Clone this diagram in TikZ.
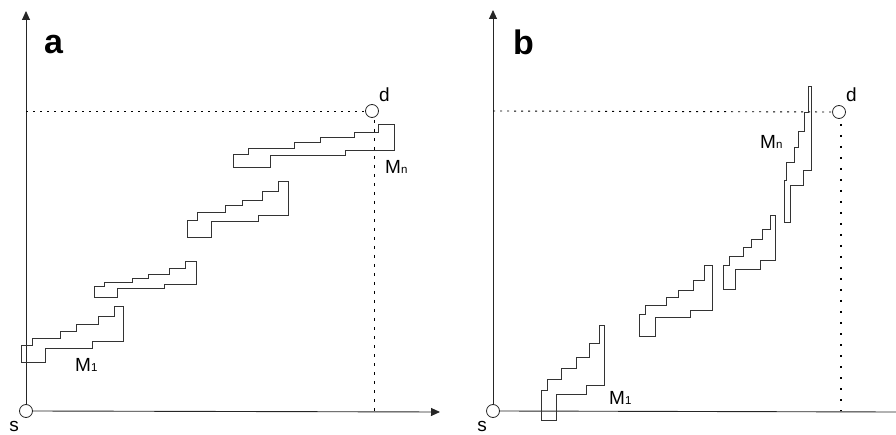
\documentclass[tikz,border=0pt]{standalone}
\usepackage{fontspec}
\setmainfont{Liberation Sans}
\usetikzlibrary{arrows.meta}
\tikzset{
  axis/.style={line width=0.9pt, draw=black!85, -{Triangle[length=9pt,width=8pt]}},
  plainaxis/.style={line width=0.9pt, draw=black!85},
  endpt/.style={circle, draw=black!85, fill=white, line width=0.8pt, minimum size=13pt, inner sep=0pt},
  stair/.style={line width=0.9pt, draw=black!80, line join=miter},
  guideA/.style={line width=0.9pt, dash pattern=on 2pt off 5pt},
  guideV/.style={line width=0.9pt, dash pattern=on 3pt off 6pt},
  guideB/.style={line width=2pt, dash pattern=on 2pt off 9pt},
  lbl/.style={font=\fontsize{19}{19}\selectfont, inner sep=0pt},
  panel/.style={font=\fontsize{34}{34}\selectfont\bfseries, inner sep=0pt},
}
\newcommand{\subsm}[1]{{\fontsize{11.5}{11.5}\selectfont #1}}
\begin{document}
\begin{tikzpicture}[x=1pt,y=-1pt]
\useasboundingbox (0,0) rectangle (896,435);

% ---------------- panel a ----------------
\node[endpt] (sa) at (26,411) {};
\coordinate (topA) at (26,11);
\coordinate (rightA) at (440,412);
\draw[axis] (sa.north) -- (topA);
\draw[axis] (sa.east) -- (rightA);
\node[lbl, anchor=north] (slblA) at (14,421) {s};
\node[panel, anchor=west] (pa) at (44,45) {a};

\node[endpt] (da) at (372,111) {};
\node[lbl, anchor=south west] (dlblA) at (379,102) {d};
\coordinate (leftA) at (26,111);
\coordinate (vtopA) at (374,120);
\coordinate (vbotA) at (374,411);
\draw[guideA] (leftA) -- (da.west);
\draw[guideV] (vtopA) -- (vbotA);

% staircases of panel a
\draw[stair] (21.7,362.7) |- (32.3,345.7) |- (60.7,338.3) |- (76.7,331.7) |- (98.3,324.3)
  |- (114.3,316.7) |- (123.3,306.7) |- (92.3,341) |- (45,348.3) |- cycle;
\draw[stair] (94,297.7) |- (104,286.7) |- (132.3,282.3) |- (148.3,278.3) |- (169.3,274)
  |- (185.3,268.3) |- (196,261.7) |- (164,284.3) |- (117.3,288.3) |- cycle;
\draw[stair] (187.3,237.7) |- (197.3,220) |- (225.7,212.3) |- (242.3,205.7) |- (262.7,200)
  |- (278.7,191.7) |- (288.3,181) |- (258.3,215) |- (211,221.7) |- cycle;
\draw[stair] (233.3,167.3) |- (248.3,154) |- (294,148.3) |- (320,142.7) |- (354,137.7)
  |- (378.3,132) |- (394.3,124.3) |- (345.7,150.7) |- (270,155) |- cycle;

\node[lbl, anchor=base west] (m1a) at (75,371) {M\subsm{1}};
\node[lbl, anchor=base west] (mna) at (385,174) {M\subsm{n}};

% ---------------- panel b ----------------
\node[endpt] (sb) at (493,411) {};
\coordinate (topB) at (493,10);
\coordinate (rightB) at (896,412);
\draw[axis] (sb.north) -- (topB);
\draw[plainaxis] (sb.east) -- (rightB);
\node[lbl, anchor=north] (slblB) at (482,421) {s};
\node[panel, anchor=west] (pb) at (513,42) {b};

\node[endpt] (db) at (839,112) {};
\node[lbl, anchor=south west] (dlblB) at (846,102) {d};
\coordinate (leftB) at (493,111);
\coordinate (vtopB) at (841,124);
\coordinate (vbotB) at (841,411);
\draw[guideA] (leftB) -- (db.west);
\draw[guideB] (vtopB) -- (vbotB);

% staircases of panel b
\draw[stair] (541.7,420.7) |- (547.7,390) |- (561.7,379) |- (576,368.3) |- (589.3,357.3)
  |- (599,343.3) |- (604.3,325) |- (586,385) |- (556.7,394.3) |- cycle;
\draw[stair] (639,336.7) |- (645.7,314.3) |- (666.7,305) |- (678.3,297.7) |- (693.3,290)
  |- (704,280) |- (712.3,265.7) |- (690,310) |- (655.7,317.7) |- cycle;
\draw[stair] (723.3,289) |- (729,265.7) |- (743.3,256) |- (751.7,247.7) |- (762.3,239.3)
  |- (770.7,229.3) |- (775.7,215) |- (760,260.7) |- (735.7,269) |- cycle;
\draw[stair] (784,222.3) |- (786.7,180) |- (794.3,162.3) |- (798.7,147.3) |- (804.3,131.7)
  |- (808.7,112.3) |- (811.3,86.7) |- (803.3,170) |- (790.7,185.7) |- cycle;

\node[lbl, anchor=base west] (m1b) at (609,404) {M\subsm{1}};
\node[lbl, anchor=base west] (mnb) at (760,149) {M\subsm{n}};
\end{tikzpicture}
\end{document}
